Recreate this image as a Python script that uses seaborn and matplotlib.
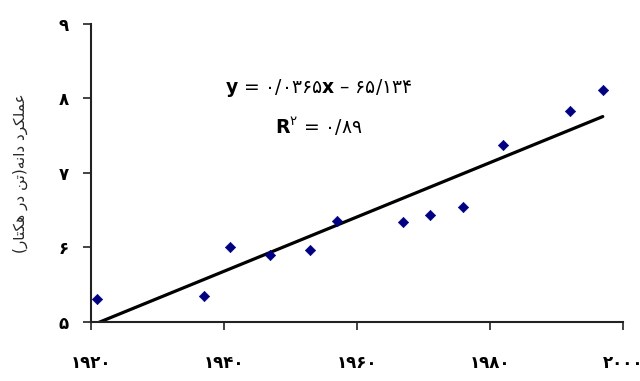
import unicodedata
import matplotlib
matplotlib.use("Agg")
import matplotlib.pyplot as plt
import seaborn as sns
import pandas as pd

# Data
years = [1921, 1937, 1941, 1947, 1953, 1957, 1967, 1971, 1976, 1982, 1992, 1997]
grain_yield = [5.30, 5.35, 6.00, 5.90, 5.96, 6.35, 6.34, 6.44, 6.54, 7.37, 7.83, 8.11]
slope, intercept, r2 = 0.0365, -65.134, 0.89
x_ticks = [1920, 1940, 1960, 1980, 2000]
y_ticks = [5, 6, 7, 8, 9]
y_label = "عملکرد دانه(تن در هکتار)"

FA_DIGITS = str.maketrans("0123456789.", "۰۱۲۳۴۵۶۷۸۹/")


def fa(s):
    return str(s).translate(FA_DIGITS)


# matplotlib has no arabic shaping, so join letters by hand
FORMS = {}
for cp in list(range(0xFB50, 0xFE00)) + list(range(0xFE70, 0xFF00)):
    d = unicodedata.decomposition(chr(cp)).split()
    if len(d) == 2 and d[0] in ("<isolated>", "<final>", "<initial>", "<medial>"):
        FORMS.setdefault((chr(int(d[1], 16)), d[0][1:-1]), chr(cp))


def is_letter(c):
    return (c, "isolated") in FORMS or (c, "final") in FORMS


def joins_next(c):
    return (c, "initial") in FORMS


def shape_fa(text):
    out = []
    for i, c in enumerate(text):
        if not is_letter(c):
            out.append(c)
            continue
        prev = text[i - 1] if i > 0 else ""
        nxt = text[i + 1] if i < len(text) - 1 else ""
        a = prev != "" and is_letter(prev) and joins_next(prev)
        b = nxt != "" and is_letter(nxt) and joins_next(c)
        form = "medial" if a and b else "final" if a else "initial" if b else "isolated"
        out.append(FORMS.get((c, form), FORMS.get((c, "isolated"), c)))
    vis = "".join(out)[::-1]
    return vis.translate(str.maketrans("()", ")("))


df = pd.DataFrame({"year": years, "yield": grain_yield})
trend = pd.DataFrame({"year": [min(years), max(years)]})
trend["yield"] = slope * trend["year"] + intercept

sns.set_theme(style="white")
plt.rcParams["font.family"] = ["DejaVu Sans"]
plt.rcParams["text.color"] = "black"
plt.rcParams["xtick.color"] = "black"
plt.rcParams["ytick.color"] = "black"

fig = plt.figure(figsize=(6.4, 3.81), dpi=100)
ax = fig.add_axes([0.1417, 0.1556, 0.973 - 0.1417, 0.937 - 0.1556])

sns.lineplot(data=trend, x="year", y="yield", color="black", linewidth=2.3, ax=ax)
sns.scatterplot(data=df, x="year", y="yield", marker="D", s=28, color="#000080",
                edgecolor="#000080", ax=ax, zorder=3)

ax.set_xlim(1920, 2000)
ax.set_ylim(5, 9)
ax.set_xticks(x_ticks)
ax.set_yticks(y_ticks)
ax.set_xticklabels([fa(t) for t in x_ticks], fontsize=12, fontweight="bold")
ax.set_yticklabels([fa(t) for t in y_ticks], fontsize=12, fontweight="bold")
ax.tick_params(axis="both", direction="out", length=6, width=1.2, color="#222222",
               left=True, bottom=True)
ax.tick_params(axis="x", pad=17)
ax.tick_params(axis="y", pad=10)
for side in ["top", "right"]:
    ax.spines[side].set_visible(False)
for side in ["left", "bottom"]:
    ax.spines[side].set_color("#222222")
    ax.spines[side].set_linewidth(1.5)

ax.set_xlabel("")
ax.set_ylabel(shape_fa(y_label), fontsize=11, labelpad=22)

eq = r"$\mathbf{y}$ = " + fa(f"{slope:.4f}") + r"$\mathbf{x}$ – " + fa(f"{-intercept:.3f}")
ax.text(1954.3, 8.14, eq, fontsize=13.5, ha="center", va="center")
ax.text(1954.3, 7.62, r"$\mathbf{R}^{\mathrm{" + fa(2) + "}}$ = " + fa(r2), fontsize=13.5,
        ha="center", va="center")

fig.savefig("out.png", dpi=100)
